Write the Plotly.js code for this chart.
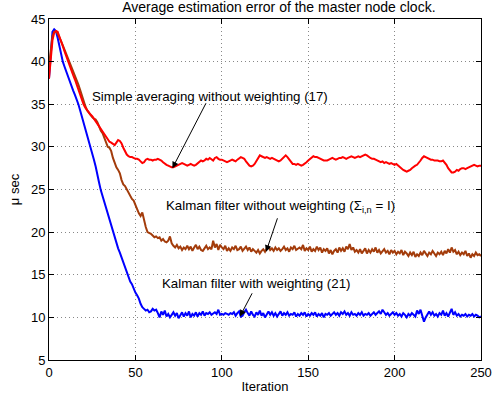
<!DOCTYPE html>
<html>
<head>
<meta charset="utf-8">
<script src="https://cdn.plot.ly/plotly-3.0.1.min.js"></script>
<style>html,body{margin:0;padding:0;background:#fff;}#chart{width:498px;height:400px;}</style>
</head>
<body>
<div id="chart"></div>
<script>
// Iterations 0..250
const iterations = Array.from({length: 251}, (_, i) => i);

// Simple averaging without weighting (17) - red
const simpleAveraging = [
38.0,40.5,42.5,43.4,43.6,43.5,43.0,42.4,41.8,41.2,
40.6,40.0,39.4,38.9,38.4,37.9,37.3,36.7,36.1,35.5,
35.0,34.6,34.3,34.0,33.8,33.6,33.3,33.0,32.7,32.3,
32.0,31.7,31.4,31.1,30.8,30.6,30.5,30.3,30.2,30.5,
30.8,30.7,30.4,29.9,29.4,29.1,28.9,28.8,28.8,28.7,
28.6,28.6,28.5,28.3,28.1,28.2,28.5,28.6,28.5,28.5,
28.4,28.5,28.5,28.6,28.5,28.4,28.2,28.0,27.9,27.8,
27.7,27.6,27.6,27.7,27.8,27.9,28.0,28.1,28.0,27.9,
27.8,27.9,28.0,27.9,27.8,27.9,28.1,28.3,28.4,28.3,
28.4,28.6,28.5,28.7,28.5,28.4,28.7,28.8,28.6,28.5,
28.5,28.4,28.3,28.2,28.3,28.4,28.5,28.4,28.3,28.5,
28.7,28.8,28.7,28.6,28.3,28.0,27.8,27.7,27.8,28.0,
28.3,28.7,29.0,28.9,28.8,28.7,28.8,28.7,28.6,28.7,
28.6,28.5,28.4,28.3,28.4,28.6,28.9,29.0,28.8,28.5,
28.2,28.0,28.0,27.9,28.0,27.9,27.8,27.9,28.0,28.2,
28.4,28.6,28.8,28.9,28.8,28.8,28.7,28.6,28.5,28.4,
28.4,28.4,28.5,28.6,28.7,28.6,28.5,28.6,28.7,28.7,
28.8,28.7,28.6,28.7,28.8,28.9,28.8,28.7,28.8,28.9,
28.8,28.9,29.0,29.1,29.0,28.8,28.7,28.6,28.6,28.5,
28.4,28.3,28.2,28.3,28.1,28.2,28.1,28.0,28.1,28.0,
27.9,28.0,27.8,27.6,27.4,27.3,27.2,27.1,27.2,27.3,
27.5,27.7,27.8,27.9,28.1,28.4,28.7,28.9,28.8,28.7,
28.6,28.5,28.5,28.4,28.4,28.4,28.3,28.3,28.4,28.2,
27.9,27.5,27.2,27.0,27.0,27.1,27.3,27.2,27.4,27.5,
27.5,27.4,27.5,27.6,27.7,27.8,27.9,27.8,27.7,27.8,
27.8
];

// Kalman filter without weighting - brown
const kalmanNoWeight = [
39.5,41.5,43.0,43.5,43.5,43.3,42.9,42.4,41.9,41.4,
40.9,40.4,40.0,39.5,39.0,38.5,38.0,37.3,36.7,36.0,
35.4,34.8,34.3,34.0,33.7,33.5,33.3,33.2,32.9,32.3,
31.9,31.6,31.1,30.6,30.0,29.9,29.5,28.7,28.0,27.6,
27.3,26.9,26.1,25.6,25.4,25.0,24.6,24.3,23.9,23.7,
23.1,22.7,22.2,21.9,22.3,21.3,20.6,20.0,19.9,19.8,
19.6,19.4,19.5,19.3,19.4,19.0,19.2,18.9,18.8,19.0,
19.5,18.7,18.4,18.2,18.5,18.1,18.3,17.9,18.2,18.0,
18.4,18.0,18.3,17.8,18.2,18.5,18.0,18.3,17.9,17.8,
18.1,18.4,18.0,18.2,18.0,19.0,18.2,18.6,17.9,18.5,
18.2,18.0,18.4,17.8,18.1,17.8,18.2,18.0,18.4,17.9,
18.0,18.3,17.8,18.1,18.3,17.9,18.2,17.7,18.0,17.8,
17.6,17.9,17.5,17.8,18.0,17.7,18.1,18.3,17.9,18.1,
17.8,18.2,17.9,18.1,17.8,18.0,18.3,17.9,18.1,17.7,
18.2,18.0,18.4,17.9,18.1,18.2,18.0,18.5,17.8,18.1,
17.9,18.3,17.7,18.0,17.8,18.3,17.9,18.2,17.6,18.0,
17.8,18.1,17.5,17.9,17.4,17.8,18.0,17.6,18.2,17.8,
18.1,17.7,18.3,18.0,18.6,17.9,18.2,17.7,17.9,17.6,
18.0,17.5,17.8,18.1,17.5,17.9,17.6,18.0,17.7,18.2,
17.6,17.9,17.5,17.7,18.0,17.6,17.8,17.4,17.9,17.6,
17.8,17.4,17.7,17.5,17.9,17.3,17.7,17.5,17.2,17.6,
17.3,17.7,17.1,17.4,17.2,17.6,17.3,17.8,17.5,17.2,
17.6,17.4,17.8,17.5,17.2,17.6,17.4,17.7,17.3,17.8,
17.5,18.0,17.6,18.2,17.7,17.9,17.4,17.7,17.3,17.6,
17.4,17.8,17.2,17.5,17.0,17.4,17.2,17.6,17.3,17.4,
17.2
];

// Kalman filter with weighting (21) - blue
const kalmanWeight = [
38.0,41.5,43.5,43.8,43.6,42.8,41.8,40.8,40.0,39.4,
38.8,38.3,37.7,37.2,36.6,36.1,35.6,35.0,34.3,33.6,
32.9,32.3,31.6,30.8,30.0,29.3,28.5,27.7,26.9,25.8,
24.9,24.2,23.6,23.0,22.4,21.7,20.9,20.0,19.4,18.7,
18.1,17.6,17.0,16.4,15.8,15.3,14.7,14.2,13.9,13.3,
12.9,12.6,12.2,11.6,11.2,11.0,10.8,10.9,10.6,10.7,
11.0,10.8,10.9,10.5,10.0,10.7,10.3,10.8,10.1,10.4,
10.0,10.3,10.6,10.2,10.5,9.9,10.3,10.6,10.1,10.5,
10.2,10.7,10.0,10.4,10.2,10.6,10.1,10.5,10.3,10.7,
10.2,10.5,10.4,10.6,10.3,10.5,10.6,10.4,10.9,10.3,
10.4,10.3,10.5,10.4,10.3,10.5,10.4,10.6,10.2,10.5,
10.7,10.1,10.2,10.6,10.9,10.5,10.2,10.7,10.3,10.1,
10.6,10.3,10.8,10.2,10.5,10.0,10.4,10.7,10.3,10.6,
10.2,10.5,10.1,10.4,10.7,10.2,10.5,10.3,10.6,10.2,
10.4,10.3,10.6,10.1,10.4,10.2,10.5,10.3,10.6,10.1,
10.4,10.2,10.5,10.3,10.6,10.1,10.4,10.2,10.5,10.0,
10.4,10.3,10.5,10.2,10.4,10.6,10.3,10.5,10.2,10.6,
10.4,10.7,10.3,10.5,10.2,10.6,10.3,10.4,10.2,10.5,
10.3,10.6,10.2,10.4,10.3,10.5,10.2,10.4,10.6,10.3,
10.5,10.7,10.4,10.9,10.6,10.3,10.5,10.2,10.4,10.6,
10.3,10.5,10.2,10.4,10.1,10.5,10.3,10.0,10.4,10.2,
10.5,10.3,10.1,10.8,10.4,10.9,10.2,9.5,10.0,10.4,
10.7,10.3,10.6,10.2,10.4,10.1,10.5,10.3,10.8,10.2,
10.5,10.1,10.6,11.0,10.3,10.6,10.2,10.4,10.1,10.3,
10.2,10.4,10.1,10.3,10.2,10.4,10.1,10.3,10.2,10.0,
10.1
];

const xTicks = [0, 50, 100, 150, 200, 250];
const yTicks = [5, 10, 15, 20, 25, 30, 35, 40, 45];

const labelSimple = 'Simple averaging without weighting (17)';
const labelKalmanNo = 'Kalman filter without weighting (Σ<sub>i,n</sub> = I)';
const labelKalmanW = 'Kalman filter with weighting (21)';

const FONT = 'Liberation Sans, Arial, Helvetica, sans-serif';
const ANN_SIZE = 13.3;

const traces = [
  {x: iterations, y: kalmanWeight, type: 'scatter', mode: 'lines', line: {color: '#0000ff', width: 2}, name: labelKalmanW},
  {x: iterations, y: kalmanNoWeight, type: 'scatter', mode: 'lines', line: {color: '#a33c0b', width: 2}, name: 'Kalman filter without weighting'},
  {x: iterations, y: simpleAveraging, type: 'scatter', mode: 'lines', line: {color: '#ff0000', width: 2}, name: labelSimple}
];

const arrowCommon = {xref: 'x', yref: 'y', axref: 'x', ayref: 'y', text: '', showarrow: true,
  arrowhead: 2, arrowsize: 1.3, arrowwidth: 1, arrowcolor: '#000', standoff: 0, startstandoff: 0};

const layout = {
  width: 498, height: 400,
  margin: {l: 49, r: 17, t: 19, b: 40},
  paper_bgcolor: '#fff', plot_bgcolor: '#fff',
  showlegend: false,
  font: {family: FONT, size: 13, color: '#000'},
  title: {text: 'Average estimation error of the master node clock.', font: {family: FONT, size: 14, color: '#000'},
    x: 265/498, xanchor: 'center', xref: 'paper', y: 1 - 7/400, yanchor: 'middle', yref: 'container'},
  xaxis: {range: [0, 250], tickvals: xTicks, ticktext: xTicks.map(String), ticks: 'inside', ticklen: 5,
    tickcolor: '#000', showline: true, linecolor: '#000', linewidth: 1, mirror: 'ticks',
    showgrid: true, gridcolor: '#888', griddash: '1px,3px', gridwidth: 1, zeroline: false,
    tickfont: {family: FONT, size: 13, color: '#000'},
    title: {text: 'Iteration', font: {family: FONT, size: 13, color: '#000'}, standoff: 3}},
  yaxis: {range: [5, 45], tickvals: yTicks, ticktext: yTicks.map(String), ticks: 'inside', ticklen: 5,
    tickcolor: '#000', showline: true, linecolor: '#000', linewidth: 1, mirror: 'ticks',
    showgrid: true, gridcolor: '#888', griddash: '1px,3px', gridwidth: 1, zeroline: false,
    tickfont: {family: FONT, size: 13, color: '#000'},
    title: {text: 'μ sec', font: {family: FONT, size: 13, color: '#000'}, standoff: 8}},
  annotations: [
    {xref: 'paper', yref: 'paper', x: (210-49)/432, y: (360-96)/341, text: labelSimple, showarrow: false,
      xanchor: 'center', yanchor: 'middle', font: {family: FONT, size: ANN_SIZE, color: '#000'}},
    Object.assign({}, arrowCommon, {x: 71.4, y: 27.5, ax: 91.3, ay: 35.3}),
    {xref: 'paper', yref: 'paper', x: (280-49)/432, y: (360-207)/341, text: labelKalmanNo, showarrow: false,
      xanchor: 'center', yanchor: 'middle', font: {family: FONT, size: ANN_SIZE, color: '#000'}},
    Object.assign({}, arrowCommon, {x: 125.6, y: 17.7, ax: 132.5, ay: 21.8}),
    {xref: 'paper', yref: 'paper', x: (256-49)/432, y: (360-283)/341, text: labelKalmanW, showarrow: false,
      xanchor: 'center', yanchor: 'middle', font: {family: FONT, size: ANN_SIZE, color: '#000'}},
    Object.assign({}, arrowCommon, {x: 110.5, y: 10.1, ax: 118, ay: 13.0})
  ]
};

Plotly.newPlot('chart', traces, layout, {displayModeBar: false, staticPlot: true});
</script>
</body>
</html>
